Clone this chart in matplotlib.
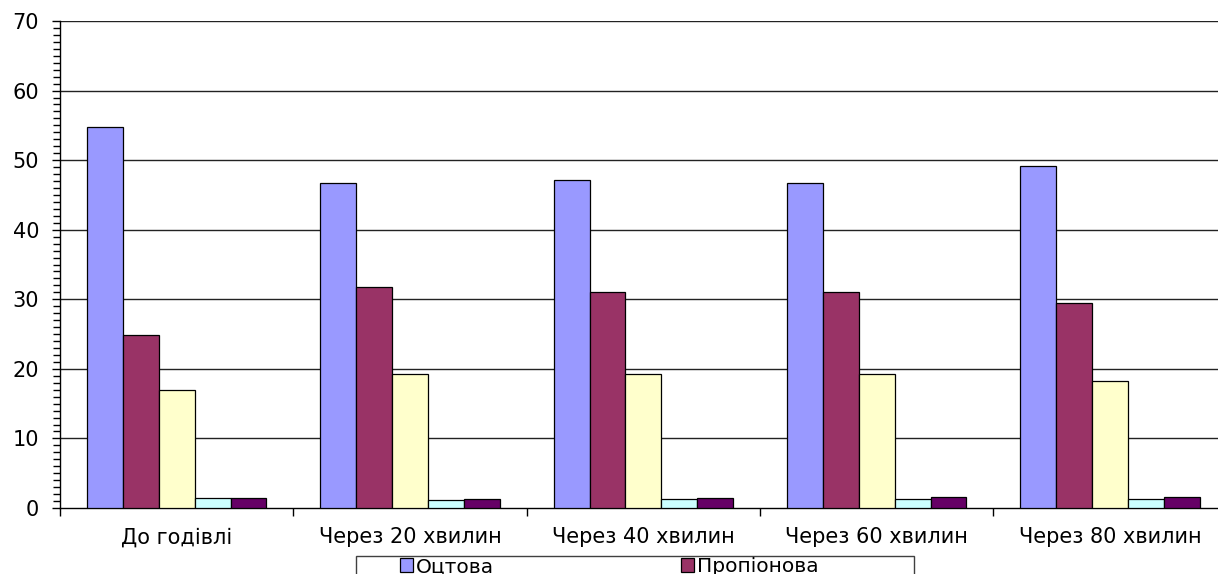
import numpy as np
import matplotlib.pyplot as plt
from matplotlib.patches import Rectangle
from matplotlib.ticker import MultipleLocator

plt.rcParams['font.family'] = ['DejaVu Sans']

# часові точки відбору проб
categories = ['До годівлі', 'Через 20 хвилин', 'Через 40 хвилин',
              'Через 60 хвилин', 'Через 80 хвилин']

# вміст летких жирних кислот, %
otstova = [54.7, 46.7, 47.2, 46.7, 49.1]
propionova = [24.8, 31.7, 31.0, 31.0, 29.4]
maslyana = [17.0, 19.3, 19.2, 19.2, 18.2]
izomaslyana = [1.45, 1.15, 1.25, 1.25, 1.25]
valerianova = [1.5, 1.25, 1.4, 1.55, 1.55]

series = [otstova, propionova, maslyana, izomaslyana, valerianova]
names = ['Оцтова', 'Пропіонова', 'Масляна', 'Ізомасляна', 'Валеріанова']
colors = ['#9999FF', '#993366', '#FFFFCC', '#CCFFFF', '#660066']

W, H = 1218, 574
fig = plt.figure(figsize=(W / 100, H / 100), dpi=100)
ax = fig.add_axes([60 / W, 66 / H, 1166.7 / W, 487 / H])

x = np.arange(len(categories))
w = 1 / 6.5
handles = []
for i, (vals, name, c) in enumerate(zip(series, names, colors)):
    h = ax.bar(x + (i - 2) * w, vals, w, color=c, edgecolor='black',
               linewidth=0.9, label=name, zorder=3)
    handles.append(h)

ax.set_xlim(-0.5, len(categories) - 0.5)
ax.set_ylim(0, 70)

# сітка по осі Y
ax.yaxis.set_major_locator(MultipleLocator(10))
ax.yaxis.set_minor_locator(MultipleLocator(1))
for v in range(10, 71, 10):
    ax.axhline(v, color='#222222', linewidth=1.0, zorder=1)

ax.tick_params(axis='y', which='major', direction='out', length=6,
               width=1, labelsize=15, pad=9)
ax.tick_params(axis='y', which='minor', direction='out', length=5, width=1)

# мітки категорій по центру, риски на межах
ax.set_xticks(np.arange(-0.5, len(categories), 1.0))
ax.set_xticklabels([])
ax.set_xticks(x, minor=True)
ax.set_xticklabels(categories, minor=True)
ax.tick_params(axis='x', which='major', direction='out', length=6, width=1)
ax.tick_params(axis='x', which='minor', length=0, labelsize=15, pad=14)

for s in ['top', 'right']:
    ax.spines[s].set_visible(False)
ax.spines['left'].set_linewidth(1.0)
ax.spines['bottom'].set_linewidth(1.0)

# легенда внизу, рамка виходить за нижній край
fig.add_artist(Rectangle((356 / W, -0.05), 558 / W, 0.05 + 18 / H,
                         transform=fig.transFigure, facecolor='white',
                         edgecolor='#404040', linewidth=1.0, clip_on=False))
fig.legend(handles[:2], names[:2], ncol=2, loc='upper left',
           bbox_to_anchor=(400 / W, 17 / H),
           bbox_transform=fig.transFigure,
           fontsize=14.5, frameon=False,
           handlelength=0.65, handleheight=0.65, handletextpad=0.15,
           columnspacing=9.25, borderpad=0, borderaxespad=0)

fig.savefig('out.png', dpi=100)
